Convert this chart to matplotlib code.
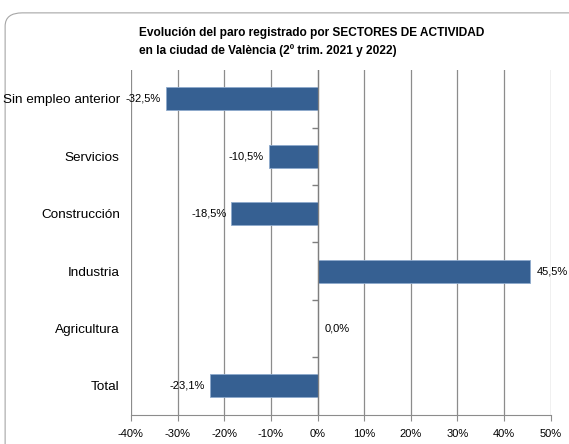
import matplotlib.pyplot as plt
from matplotlib.patches import FancyBboxPatch
from matplotlib.ticker import MultipleLocator, FuncFormatter
import numpy as np

sectores = ["Sin empleo anterior", "Servicios", "Construcción", "Industria", "Agricultura", "Total"]
variacion = [-32.5, -10.5, -18.5, 45.5, 0.0, -23.1]

plt.rcParams['font.family'] = ['Liberation Sans', 'DejaVu Sans']

fig = plt.figure(figsize=(5.69, 4.44), dpi=100)

# marco redondeado alrededor del grafico
marco = FancyBboxPatch((0.009, -0.05), 1.05, 1.021, boxstyle="round,pad=0,rounding_size=0.03",
                       transform=fig.transFigure, facecolor='white', edgecolor='#a6a6a6',
                       linewidth=0.8, zorder=-1)
fig.patches.append(marco)

ax = fig.add_axes([0.230, 0.066, 0.738, 0.776])
ax.set_facecolor('none')
y = np.arange(len(sectores))

ax.barh(y, variacion, height=0.4, color='#366092', edgecolor='#8eaacc', linewidth=0.6, zorder=3)

ax.set_xlim(-40, 50)
ax.set_ylim(len(sectores) - 0.5, -0.5)
ax.xaxis.set_major_locator(MultipleLocator(10))
ax.xaxis.set_major_formatter(FuncFormatter(lambda v, p: f"{v:.0f}%"))
ax.grid(axis='x', color='#8c8c8c', linewidth=0.9, zorder=0)

ax.set_yticks(y)
ax.set_yticklabels(sectores, fontsize=9.7)
ax.tick_params(axis='y', length=0, pad=8)
ax.tick_params(axis='x', labelsize=8, length=4, color='#8c8c8c', pad=6)

for s in ['top', 'right', 'left']:
    ax.spines[s].set_visible(False)
ax.spines['bottom'].set_color('#8c8c8c')

# eje vertical en el 0% con sus marcas
ax.axvline(0, color='#7f7f7f', linewidth=0.9, zorder=4)
ax.plot([0] * (len(sectores) - 1), y[:-1] + 0.5, marker=0, markersize=4,
        color='#7f7f7f', linestyle='none', zorder=4, clip_on=False)

for yi, v in zip(y, variacion):
    txt = f"{v:.1f}%".replace('.', ',')
    if v < 0:
        ax.text(v - 1, yi, txt, ha='right', va='center', fontsize=8, zorder=5)
    elif v > 0:
        ax.text(v + 1.5, yi, txt, ha='left', va='center', fontsize=8, zorder=5)
    else:
        ax.text(1.5, yi, txt, ha='left', va='center', fontsize=8, zorder=5)

fig.text(0.245, 0.925, "Evolución del paro registrado por SECTORES DE ACTIVIDAD",
         fontsize=8.6, fontweight='bold', ha='left', va='center')
fig.text(0.245, 0.887, "en la ciudad de València (2º trim. 2021 y 2022)",
         fontsize=8.6, fontweight='bold', ha='left', va='center')

fig.savefig("out.png", dpi=100)
